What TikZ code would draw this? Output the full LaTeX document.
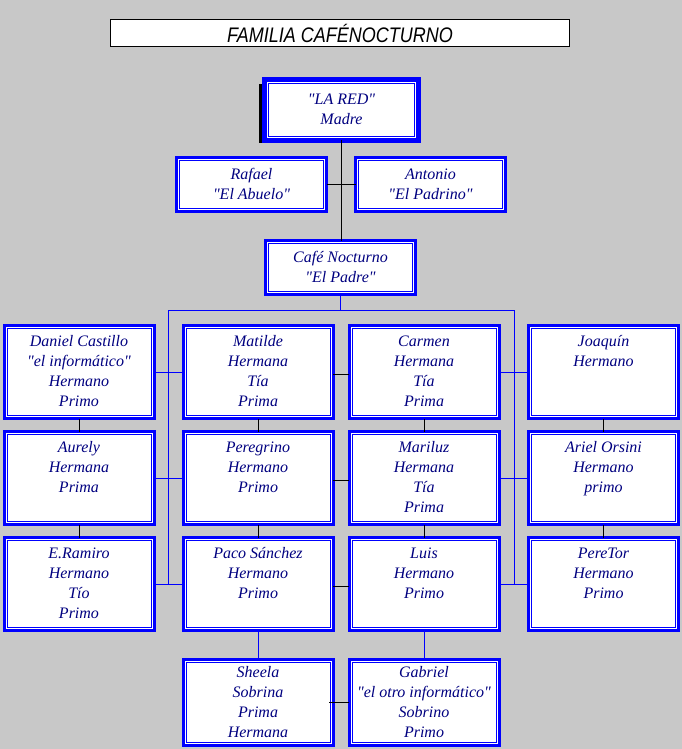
\documentclass[tikz,border=0pt]{standalone}
\usepackage{fontspec}
\setmainfont{Liberation Serif}[Ligatures=TeXOff]
\newfontfamily\titlefont{Liberation Sans}
\usepackage{graphicx}
\definecolor{bgGray}{RGB}{200,200,200}
\definecolor{boxBlue}{RGB}{0,0,255}
\definecolor{txtNavy}{RGB}{0,0,128}
\newcommand\famtext[3]{\parbox[c][#1][t]{148pt}{\vspace*{#2}\centering\strut #3}}
\tikzset{
  famBox/.style={draw=boxBlue, line width=3pt, fill=white, inner sep=0pt, outer sep=0pt,
    minimum width=150pt, text=txtNavy, font=\fontsize{16}{20}\selectfont\itshape,
    path picture={\draw[boxBlue,line width=1pt]
      ([shift={(3pt,-3pt)}]path picture bounding box.north west) rectangle
      ([shift={(-3pt,3pt)}]path picture bounding box.south east);}},
  topBox/.style={draw=boxBlue, line width=5pt, fill=white, inner sep=0pt, outer sep=0pt,
    minimum width=154pt, minimum height=60pt, text=txtNavy, font=\fontsize{16}{20}\selectfont\itshape,
    path picture={\draw[boxBlue,line width=1pt]
      ([shift={(4pt,-4pt)}]path picture bounding box.north west) rectangle
      ([shift={(-4pt,4pt)}]path picture bounding box.south east);}},
  gridBox/.style={famBox, minimum height=93pt},
  lowBox/.style={famBox, minimum height=86pt},
  pairBox/.style={famBox, minimum height=54pt},
  blackLink/.style={draw=black, line width=1pt},
  blueLink/.style={draw=boxBlue, line width=1pt},
}
\begin{document}
\begin{tikzpicture}[x=1pt,y=-1pt]
\useasboundingbox (0,0) rectangle (682,749);
\fill[bgGray] (0,0) rectangle (682,749);

% title
\node[draw=black, line width=1pt, fill=white, minimum width=459pt, minimum height=27pt, inner sep=0pt]
  (title) at (340,33) {\raisebox{-1.5pt}{\scalebox{1}[1.17]{\titlefont\itshape\fontsize{18}{18}\selectfont FAMILIA CAFÉNOCTURNO}}};

% top node with shadow
\fill[black] (259,84) rectangle (413,143);
\node[topBox] (red) at (341.5,110) {\famtext{46pt}{4pt}{"LA RED"\\Madre}};

\node[pairBox] (raf) at (251.5,184.5) {\famtext{42pt}{2pt}{Rafael\\"El Abuelo"}};
\node[pairBox] (ant) at (430.5,184.5) {\famtext{42pt}{2pt}{Antonio\\"El Padrino"}};
\node[pairBox] (cafe) at (340.5,267.5) {\famtext{42pt}{2pt}{Café Nocturno\\"El Padre"}};

% grid row 1
\node[gridBox] (dan) at (79,372) {\famtext{81pt}{1pt}{Daniel Castillo\\"el informático"\\Hermano\\Primo}};
\node[gridBox] (mat) at (258,372) {\famtext{81pt}{1pt}{Matilde\\Hermana\\Tía\\Prima}};
\node[gridBox] (car) at (424,372) {\famtext{81pt}{1pt}{Carmen\\Hermana\\Tía\\Prima}};
\node[gridBox] (joa) at (603.5,372) {\famtext{81pt}{1pt}{Joaquín\\Hermano}};
% row 2
\node[gridBox] (aur) at (79,478) {\famtext{81pt}{1pt}{Aurely\\Hermana\\Prima}};
\node[gridBox] (per) at (258,478) {\famtext{81pt}{1pt}{Peregrino\\Hermano\\Primo}};
\node[gridBox] (mar) at (424,478) {\famtext{81pt}{1pt}{Mariluz\\Hermana\\Tía\\Prima}};
\node[gridBox] (ari) at (603.5,478) {\famtext{81pt}{1pt}{Ariel Orsini\\Hermano\\primo}};
% row 3
\node[gridBox] (era) at (79,584) {\famtext{81pt}{1pt}{E.Ramiro\\Hermano\\Tío\\Primo}};
\node[gridBox] (pac) at (258,584) {\famtext{81pt}{1pt}{Paco Sánchez\\Hermano\\Primo}};
\node[gridBox] (lui) at (424,584) {\famtext{81pt}{1pt}{Luis\\Hermano\\Primo}};
\node[gridBox] (per2) at (603.5,584) {\famtext{81pt}{1pt}{PereTor\\Hermano\\Primo}};
% row 4
\node[lowBox] (she) at (258,702.5) {\famtext{81pt}{1pt}{Sheela\\Sobrina\\Prima\\Hermana}};
\node[lowBox] (gab) at (424,702.5) {\famtext{81pt}{1pt}{Gabriel\\"el otro informático"\\Sobrino\\Primo}};

% black connectors (top)
\draw[blackLink] (red.south) -- (red.south |- cafe.north);
\draw[blackLink] (raf.east) -- (ant.west);

% blue bus
\coordinate (busL) at (168,310);
\coordinate (busR) at (514,310);
\draw[blueLink] (cafe.south) -- (cafe.south |- busL);
\draw[blueLink] (busL) -- (busR);
\draw[blueLink] (busL) -- (busL |- era.east);
\draw[blueLink] (busR) -- (busR |- per2.west);

% blue horizontals
\draw[blueLink] (dan.east) -- (mat.west);
\draw[blueLink] (aur.east) -- (per.west);
\draw[blueLink] (era.east) -- (pac.west);
\draw[blueLink] (car.east) -- (joa.west);
\draw[blueLink] (mar.east) -- (ari.west);
\draw[blueLink] (lui.east) -- (per2.west);

% black horizontals
\draw[blackLink] ([yshift=-2pt]mat.east) -- ([yshift=-2pt]car.west);
\draw[blackLink] ([yshift=-2pt]per.east) -- ([yshift=-2pt]mar.west);
\draw[blackLink] ([yshift=-2pt]pac.east) -- ([yshift=-2pt]lui.west);

% black verticals
\draw[blackLink] (dan.south) -- (aur.north);
\draw[blackLink] (aur.south) -- (era.north);
\draw[blackLink] (mat.south) -- (per.north);
\draw[blackLink] (per.south) -- (pac.north);
\draw[blackLink] (car.south) -- (mar.north);
\draw[blackLink] (mar.south) -- (lui.north);
\draw[blackLink] (joa.south) -- (ari.north);
\draw[blackLink] (ari.south) -- (per2.north);

% bottom
\draw[blueLink] (pac.south) -- (she.north);
\draw[blueLink] (lui.south) -- (gab.north);
\draw[blackLink] ([xshift=-4pt]she.east) -- (gab.west);
\end{tikzpicture}
\end{document}
